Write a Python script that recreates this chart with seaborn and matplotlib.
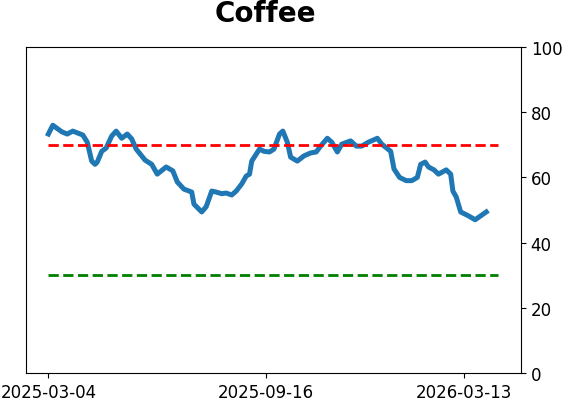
import matplotlib
matplotlib.use("Agg")
import matplotlib.pyplot as plt
import seaborn as sns
import pandas as pd

# series
dates = [
    "2025-03-04", "2025-03-08", "2025-03-16", "2025-03-21", "2025-03-26", "2025-04-04",
    "2025-04-08", "2025-04-12", "2025-04-15", "2025-04-17", "2025-04-21", "2025-04-25",
    "2025-04-30", "2025-05-04", "2025-05-09", "2025-05-14", "2025-05-18", "2025-05-22",
    "2025-05-30", "2025-06-05", "2025-06-10", "2025-06-18", "2025-06-24", "2025-06-28",
    "2025-07-04", "2025-07-11", "2025-07-13", "2025-07-20", "2025-07-24", "2025-07-29",
    "2025-08-02", "2025-08-07", "2025-08-11", "2025-08-16", "2025-08-20", "2025-08-25",
    "2025-08-29", "2025-09-01", "2025-09-03", "2025-09-10", "2025-09-14", "2025-09-19",
    "2025-09-23", "2025-09-28", "2025-10-01", "2025-10-05", "2025-10-08", "2025-10-14",
    "2025-10-20", "2025-10-26", "2025-10-31", "2025-11-04", "2025-11-10", "2025-11-14",
    "2025-11-19", "2025-11-23", "2025-12-01", "2025-12-06", "2025-12-11", "2025-12-17",
    "2025-12-25", "2025-12-29", "2026-01-06", "2026-01-09", "2026-01-14", "2026-01-20",
    "2026-01-25", "2026-01-30", "2026-02-02", "2026-02-06", "2026-02-09", "2026-02-14",
    "2026-02-18", "2026-02-25", "2026-03-01", "2026-03-03", "2026-03-06", "2026-03-10",
    "2026-03-17", "2026-03-23", "2026-03-28", "2026-04-02",
]
values = [
    73.3, 76.0, 74.0, 73.3, 74.2, 73.0,
    70.8, 65.0, 64.0, 64.7, 68.0, 69.0,
    72.7, 74.2, 72.0, 73.3, 71.8, 68.7,
    65.3, 64.0, 61.0, 63.2, 62.0, 58.6,
    56.4, 55.5, 51.8, 49.4, 51.0, 55.8,
    55.5, 55.0, 55.2, 54.6, 55.8, 58.0,
    60.4, 61.0, 65.0, 68.7, 68.0, 67.8,
    68.7, 73.3, 74.2, 70.8, 66.2, 65.0,
    66.6, 67.5, 67.8, 69.6, 72.0, 70.8,
    67.8, 70.2, 71.2, 69.6, 69.6, 70.8,
    72.0, 70.2, 68.0, 62.6, 60.0, 59.0,
    59.0, 60.0, 64.0, 64.7, 63.2, 62.3,
    61.0, 62.3, 61.0, 55.8, 54.0, 49.4,
    48.2, 47.0, 48.2, 49.4,
]
upper_level = 70
lower_level = 30
level_span = ["2025-03-04", "2026-04-13"]
tick_dates = ["2025-03-04", "2025-09-16", "2026-03-13"]

df = pd.DataFrame({"date": pd.to_datetime(dates), "value": values})
span = pd.to_datetime(level_span)

fig = plt.figure(figsize=(5.62, 4.02), dpi=100)
ax = fig.add_axes([0.046, 0.0697, 0.881, 0.8109])

sns.lineplot(data=df, x="date", y="value", ax=ax, color="#1f77b4", linewidth=3.6)
ax.hlines(upper_level, span[0], span[1], colors="red", linestyles="--", linewidth=2)
ax.hlines(lower_level, span[0], span[1], colors="green", linestyles="--", linewidth=2)

ax.set_ylim(0, 100)
ax.yaxis.tick_right()
ax.set_xticks(pd.to_datetime(tick_dates))
ax.set_xticklabels(tick_dates)
ax.tick_params(labelsize=12)
ax.set_xlabel("")
ax.set_ylabel("")
fig.text(0.4715, 0.945, "Coffee", fontsize=20, fontweight="bold", ha="center", va="baseline")

plt.savefig("out.png", dpi=100)
